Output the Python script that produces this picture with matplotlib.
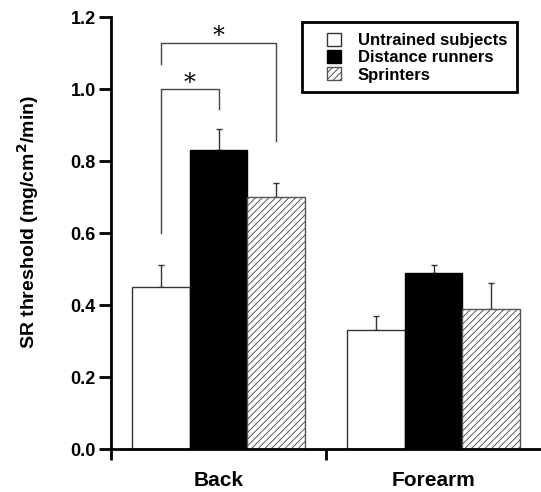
import numpy as np
import matplotlib; matplotlib.use("Agg")
import matplotlib.pyplot as plt
from matplotlib.patches import Rectangle

sites = ["Back", "Forearm"]
groups = ["Untrained subjects", "Distance runners", "Sprinters"]
means = {
    "Untrained subjects": [0.45, 0.33],
    "Distance runners": [0.83, 0.49],
    "Sprinters": [0.70, 0.39],
}
errs = {
    "Untrained subjects": [0.06, 0.04],
    "Distance runners": [0.06, 0.02],
    "Sprinters": [0.04, 0.07],
}
yticks = [0.0, 0.2, 0.4, 0.6, 0.8, 1.0, 1.2]

styles = {
    "Untrained subjects": dict(color="white", edgecolor="#333333", hatch=None),
    "Distance runners": dict(color="black", edgecolor="black", hatch=None),
    "Sprinters": dict(color="white", edgecolor="#555555", hatch="/////"),
}

plt.rcParams["font.family"] = ["Liberation Sans", "DejaVu Sans"]
plt.rcParams["font.weight"] = "bold"
plt.rcParams["hatch.linewidth"] = 0.7

W, H = 541, 492
fig = plt.figure(figsize=(W / 100, H / 100), dpi=100)
ax = fig.add_axes([111 / W, 1 - 449 / H, 430 / W, 432 / H])

x = np.array([0.0, 1.0])
w = 0.267
for i, g in enumerate(groups):
    xs = x + (i - 1) * w
    st = styles[g]
    ax.bar(xs, means[g], w, color=st["color"], edgecolor=st["edgecolor"],
           hatch=st["hatch"], linewidth=1.0, zorder=2, label=g)
    ax.errorbar(xs, means[g], yerr=[np.zeros(2), errs[g]], fmt="none",
                ecolor="#333333", elinewidth=1.0, capsize=2.5, capthick=1.0, zorder=1)

# significance brackets
bx0, bx1, bx2 = x[0] - w, x[0], x[0] + w
lc = "#444444"
ax.plot([bx0, bx0, bx1, bx1], [0.60, 1.0, 1.0, 0.945], color=lc, lw=1.0)
ax.plot([bx0, bx0, bx2, bx2], [1.07, 1.127, 1.127, 0.855], color=lc, lw=1.0)
ax.text((bx0 + bx1) / 2, 1.015, "*", ha="center", va="center", fontsize=17,
        fontweight="normal", family="DejaVu Serif")
ax.text((bx0 + bx2) / 2, 1.145, "*", ha="center", va="center", fontsize=17,
        fontweight="normal", family="DejaVu Serif")

ax.set_xlim(-0.5, 1.5)
ax.set_ylim(0, 1.2)
ax.set_yticks(yticks)
ax.set_yticklabels([f"{t:.1f}" for t in yticks], fontsize=13, fontweight="bold")
ax.set_xticks(x)
ax.set_xticklabels(sites, fontsize=15, fontweight="bold")
ax.tick_params(axis="x", which="major", length=0, pad=16)
ax.set_xticks([-0.5, 0.5], minor=True)
ax.tick_params(axis="x", which="minor", length=8, width=2)
ax.tick_params(axis="y", length=9, width=2, pad=2)
ax.spines["top"].set_visible(False)
ax.spines["right"].set_visible(False)
for s in ["left", "bottom"]:
    ax.spines[s].set_linewidth(2)
fig.text(28 / W, 1 - 222 / H, "SR threshold (mg/cm$^\\mathbf{2}$/min)", fontsize=14,
         fontweight="bold", rotation=90, ha="center", va="center")

leg = fig.legend(loc="upper left", bbox_to_anchor=(327 / W, 1 - 33 / H),
                 prop=dict(size=12, weight="bold"), frameon=False,
                 handlelength=0.85, handleheight=0.85, handletextpad=1.0,
                 labelspacing=0.1, borderpad=0, borderaxespad=0)
fig.patches.append(Rectangle((302 / W, 1 - 92 / H), 215 / W, 70 / H,
                             transform=fig.transFigure, fill=False,
                             edgecolor="black", linewidth=2))

fig.savefig("out.png", dpi=100)
